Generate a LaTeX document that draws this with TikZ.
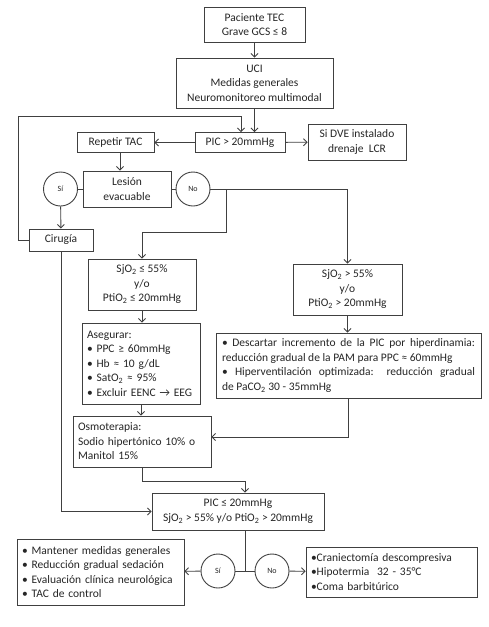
\documentclass[tikz,border=0pt]{standalone}
\usepackage{fontspec}
\setmainfont{Carlito}
\usetikzlibrary{arrows.meta,positioning,calc}
\definecolor{linec}{HTML}{404040}
\definecolor{textc}{HTML}{262626}
\tikzset{
  >={Straight Barb[length=3.5pt,width=7pt]},
  box/.style={draw=linec,line width=0.9pt,fill=white,inner sep=0pt,align=center,font=\fontsize{11.5}{14.5}\selectfont,text=textc},
  lbox/.style={box,align=left,inner xsep=5pt},
  jbox/.style={box,align=justify,inner xsep=6pt},
  circ/.style={draw=linec,line width=0.9pt,fill=white,circle,minimum size=34pt,inner sep=0pt,font=\fontsize{8}{9}\selectfont,text=textc},
  ln/.style={draw=linec,line width=0.9pt},
  arr/.style={ln,->},
}
\newcommand{\bx}[4][]{\node[box,#1] (#2) at (#3) {#4};}
\newcommand{\sub}{\textsubscript{2}}
\hyphenpenalty=10000

\begin{document}
\begin{tikzpicture}[x=1pt,y=-1pt]
  \useasboundingbox (0,0) rectangle (489,627);
  % upper part
  \bx[minimum width=101,minimum height=35]{pac}{254.5,24.5}{Paciente TEC\\Grave GCS ≤ 8}
  \bx[minimum width=157,minimum height=50]{uci}{254.5,83}{UCI\\Medidas generales\\Neuromonitoreo multimodal}
  \bx[minimum width=90,minimum height=20]{pic}{240,142.5}{PIC > 20mmHg}
  \bx[minimum width=77,minimum height=20]{rep}{115.5,142.5}{Repetir TAC}
  \bx[minimum width=98,minimum height=36]{dve}{357,142}{Si DVE instalado\\drenaje\ \ LCR}
  \bx[minimum width=88,minimum height=36]{les}{127,189}{Lesión\\evacuable}
  \node[circ] (si1) at (60.5,189) {Sí};
  \node[circ] (no1) at (193,189) {No};
  \bx[minimum width=64,minimum height=22]{cir}{61,240}{Cirugía}
  % middle part
  \bx[minimum width=108,minimum height=51]{sjl}{142,284.5}{SjO\sub{} ≤ 55\%\\y/o\\PtiO\sub{} ≤ 20mmHg}
  \bx[minimum width=109,minimum height=51]{sjh}{347.5,289.5}{SjO\sub{} > 55\%\\y/o\\PtiO\sub{} > 20mmHg}
  \bx[lbox,text width=108,minimum height=81]{ase}{141,363.5}{Asegurar:\\• PPC ≥ 60mmHg\\• Hb ≈ 10 g/dL\\• SatO\sub{} ≈ 95\%\\• Excluir EENC → EEG}
  \bx[jbox,text width=253,minimum height=65]{des}{348.5,365.5}{• Descartar incremento de la PIC por hiperdinamia:\linebreak reducción gradual de la PAM para PPC ≈ 60mmHg\par • Hiperventilación optimizada: reducción gradual\linebreak de PaCO\sub{} 30 - 35mmHg}
  \bx[lbox,text width=128,minimum height=51]{osm}{142,441.5}{Osmoterapia:\\Sodio hipertónico 10\% o\\Manitol 15\%}
  % lower part
  \bx[minimum width=172,minimum height=37]{pil}{238,511.5}{PIC ≤ 20mmHg\\SjO\sub{} > 55\% y/o PtiO\sub{} > 20mmHg}
  \node[circ] (si2) at (218,571) {Sí};
  \node[circ] (no2) at (272,571) {No};
  \bx[lbox,text width=157,minimum height=66]{lft}{100.5,572}{• Mantener medidas generales\\• Reducción gradual sedación\\• Evaluación clínica neurológica\\• TAC de control}
  \bx[lbox,text width=161,minimum height=50]{rgt}{391.5,572}{•Craniectomía descompresiva\\•Hipotermia\ \ 32 - 35°C\\•Coma barbitúrico}
  % connectors
  \coordinate (lpA) at (18,116);
  \coordinate (lpB) at (241,116);
  \coordinate (br) at (226,189);
  \coordinate (brB) at (226,232);
  \coordinate (jn) at (245,571);
  \draw[arr] (pac) -- (uci);
  \draw[arr] (uci.south) -- (uci.south |- pic.north);
  \draw[arr] (cir.west) -| (lpA) -- (lpB) -- (lpB |- pic.north);
  \draw[arr] (pic) -- (rep);
  \draw[arr] (pic) -- (dve);
  \draw[arr] ([xshift=4.5pt]rep.south) -- ([xshift=4.5pt]rep.south |- les.north);
  \draw[ln] (si1) -- (les) -- (no1);
  \draw[arr] (si1) -- (cir);
  \draw[arr] (no1) -| (sjh);
  \draw[arr] (br) -- (brB) -| (sjl);
  \draw[arr] (sjl) -- (sjl.south |- ase.north);
  \draw[arr] (sjh) -- (sjh.south |- des.north);
  \draw[arr] (ase) -- (ase.south |- osm.north);
  \draw[arr] (des.south) |- ([yshift=4.5pt]osm.east);
  \draw[arr] (osm.south) -- ++(0,14) -| ([xshift=7pt]pil.north);
  \draw[arr] (cir.south) |- (pil);
  \draw[ln] ([xshift=7pt]pil.south) -- (jn);
  \draw[ln] (si2) -- (no2);
  \draw[arr] (si2) -- (lft);
  \draw[arr] (no2) -- (rgt);
\end{tikzpicture}
\end{document}
